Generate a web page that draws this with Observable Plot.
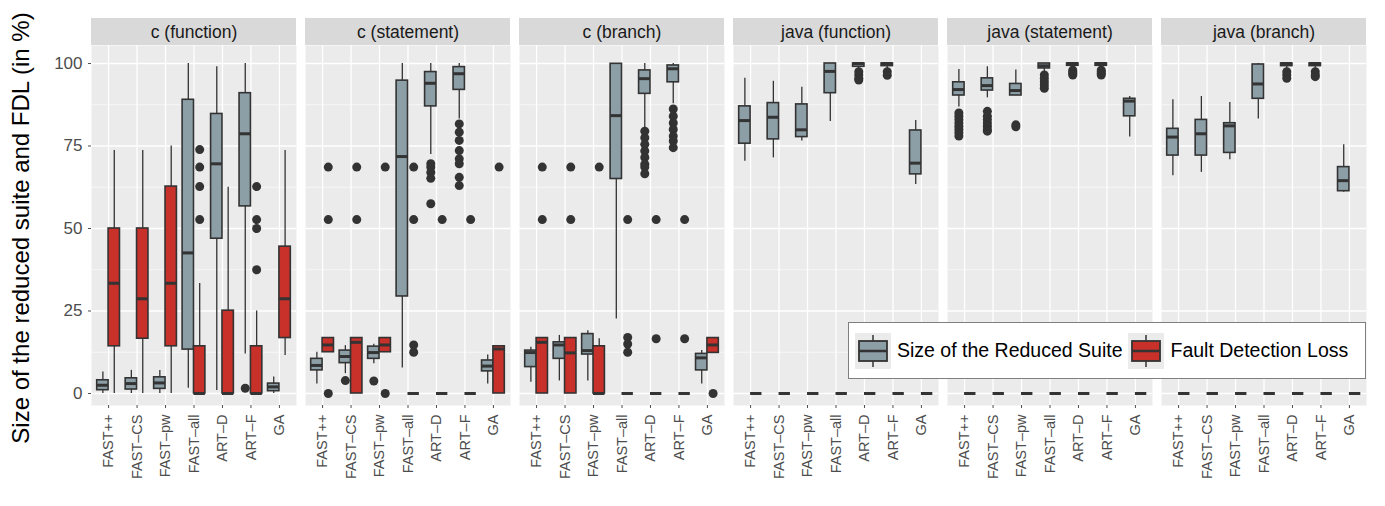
<!DOCTYPE html>
<html>
<head>
<meta charset="utf-8">
<script src="https://cdn.jsdelivr.net/npm/d3@7"></script>
<script src="https://cdn.jsdelivr.net/npm/@observablehq/plot@0.6"></script>
<style>
  body { margin: 0; background: #fff; font-family: "Liberation Sans", Arial, sans-serif; }
  #wrap { position: relative; width: 1385px; height: 506px; }
  #ylab { position: absolute; left: 21px; top: 228px; transform: translate(-50%, -50%) rotate(-90deg);
          font-size: 24px; white-space: nowrap; color: #000; }
  #legend { position: absolute; left: 848px; top: 322px; width: 516px; height: 55px; background: #fff;
            border: 1.5px solid #7f7f7f; display: flex; align-items: center; font-size: 19.5px; }
  #legend .item { display: flex; align-items: center; margin-left: 6px; }
  #legend svg { margin-right: 6px; }
</style>
</head>
<body>
<div id="wrap">
  <div id="chart"></div>
  <div id="ylab">Size of the reduced suite and FDL (in %)</div>
  <div id="legend">
    <div class="item"><svg width="36" height="36"><rect width="36" height="36" fill="#ebebeb"/><line x1="18" y1="2" x2="18" y2="34" stroke="#333" stroke-width="1.5"/><rect x="4" y="8" width="28" height="20" fill="#8c9ea6" stroke="#333" stroke-width="1.8"/><line x1="4" y1="18" x2="32" y2="18" stroke="#333" stroke-width="2.5"/></svg>Size of the Reduced Suite</div>
    <div class="item"><svg width="36" height="36"><rect width="36" height="36" fill="#ebebeb"/><line x1="18" y1="2" x2="18" y2="34" stroke="#333" stroke-width="1.5"/><rect x="4" y="8" width="28" height="20" fill="#c8302a" stroke="#333" stroke-width="1.8"/><line x1="4" y1="18" x2="32" y2="18" stroke="#333" stroke-width="2.5"/></svg>Fault Detection Loss</div>
  </div>
</div>
<script>
const facets = ["c (function)", "c (statement)", "c (branch)", "java (function)", "java (statement)", "java (branch)"];
const techniques = ["FAST++", "FAST-CS", "FAST-pw", "FAST-all", "ART-D", "ART-F", "GA"];
const seriesNames = ["Size of the Reduced Suite", "Fault Detection Loss"];

// [lo, q1, median, q3, hi] per technique, one list per facet
const sizeStats = [
  [[0,1,2.5,4,6.5],[0,1.2,3,4.6,7],[0,1.4,3.2,4.9,7],[1.6,13.3,42.6,89,100],[0.9,46.9,69.6,84.7,99],[12,56.7,78.7,91,100],[0,0.7,2,3,5]],
  [[2.9,7,8.5,10.5,12.5],[6,9.2,11.2,13,14.5],[9,10.5,12.4,14.2,14.9],[7.7,29.4,71.8,94.8,100],[72.4,87,94,97.4,100],[83.2,92,96.9,98.9,100],[2.9,6.7,8.3,10,11.7]],
  [[3.4,8,12.4,13,14],[3.8,10.5,14.7,15.5,17.6],[3.8,11.8,13,18,19],[22.6,65,84.2,99.9,100],[80.2,90.8,95.4,97.9,100],[87.8,94.3,98.4,99.4,100],[2.9,7,10.8,12,13]],
  [[70.4,75.7,82.7,87,95.5],[71.4,77,83.7,88,94.6],[76.5,77.7,79.9,87.6,92.8],[82.4,91,97.6,100,100],[98,99,100,100,100],[98.5,99.2,100,100,100],[63.3,66.4,69.8,79.7,82.7]],
  [[86.8,90.3,92.1,94.3,98.2],[89.6,91.8,93.3,95.5,99],[90.3,90.3,91.8,93.8,98],[97.5,98.5,99.3,100,100],[98.5,99.3,100,100,100],[98.5,99.3,100,100,100],[77.7,84,88.6,89.3,90]],
  [[66,72.1,77.7,80.2,89],[67,72.1,78.7,82.9,90],[70.8,72.9,81.1,81.9,88.2],[83.2,89.3,93.8,99.7,100],[98.5,99.2,100,100,100],[98.5,99.2,100,100,100],[61,61.3,64.5,68.6,75.4]]
];
const fdlStats = [
  [[0,14.3,33.4,50,73.6],[0,16.6,28.7,50,73.6],[0,14.3,33.4,62.7,75],[0,0,0,14.3,33.3],[0,0,0,25.1,62.5],[0,0,0,14.3,25],[11.5,16.8,28.7,44.5,73.6]],
  [[12.5,12.5,14.7,16.8,16.8],[0,0,15.5,16.8,16.8],[12.5,12.5,14.7,16.8,16.8],[0,0,0,0,0],[0,0,0,0,0],[0,0,0,0,0],[0,0,13.5,14.3,14.3]],
  [[0,0,15.5,16.8,16.8],[0,0,12.3,16.8,16.8],[0,0,0,14.3,16.6],[0,0,0,0,0],[0,0,0,0,0],[0,0,0,0,0],[12.3,12.3,14.7,16.8,16.8]],
  [[0,0,0,0,0],[0,0,0,0,0],[0,0,0,0,0],[0,0,0,0,0],[0,0,0,0,0],[0,0,0,0,0],[0,0,0,0,0]],
  [[0,0,0,0,0],[0,0,0,0,0],[0,0,0,0,0],[0,0,0,0,0],[0,0,0,0,0],[0,0,0,0,0],[0,0,0,0,0]],
  [[0,0,0,0,0],[0,0,0,0,0],[0,0,0,0,0],[0,0,0,0,0],[0,0,0,0,0],[0,0,0,0,0],[0,0,0,0,0]]
];
// outliers: [facet, technique, series (0 size, 1 FDL), value]
const outliers = [
  [0,3,1,73.9],[0,3,1,68.6],[0,3,1,62.7],[0,3,1,52.7],
  [0,5,0,1.6],[0,5,1,62.7],[0,5,1,52.7],[0,5,1,50],[0,5,1,37.5],
  [1,0,1,68.6],[1,0,1,52.7],[1,0,1,0],[1,1,0,3.9],[1,1,1,68.6],[1,1,1,52.7],
  [1,2,0,3.8],[1,2,1,68.6],[1,2,1,0],
  [1,3,1,68.6],[1,3,1,52.7],[1,3,1,14.7],[1,3,1,12.5],
  [1,4,0,69.6],[1,4,0,68.6],[1,4,0,67],[1,4,0,65.2],[1,4,0,57.5],[1,4,1,52.7],
  [1,5,0,81.7],[1,5,0,79.2],[1,5,0,76.7],[1,5,0,73.6],[1,5,0,71.1],[1,5,0,69.6],[1,5,0,65.5],[1,5,0,63],[1,5,1,52.7],
  [1,6,1,68.6],
  [2,0,1,68.6],[2,0,1,52.7],[2,1,1,68.6],[2,1,1,52.7],[2,2,1,68.6],
  [2,3,1,52.7],[2,3,1,17],[2,3,1,15],[2,3,1,12.5],
  [2,4,0,79.5],[2,4,0,77.5],[2,4,0,75.5],[2,4,0,73.5],[2,4,0,71.5],[2,4,0,69.5],[2,4,0,68.6],[2,4,0,66.6],[2,4,1,52.7],[2,4,1,16.6],
  [2,5,0,86.2],[2,5,0,84],[2,5,0,82],[2,5,0,80],[2,5,0,78],[2,5,0,76.5],[2,5,0,74.5],[2,5,1,52.7],[2,5,1,16.6],
  [2,6,1,0],
  [3,4,0,97.5],[3,4,0,96.5],[3,4,0,95.5],[3,4,0,95],[3,5,0,97.5],[3,5,0,96.4],
  [4,0,0,85],[4,0,0,84],[4,0,0,83],[4,0,0,82],[4,0,0,81],[4,0,0,80],[4,0,0,79],[4,0,0,78],
  [4,1,0,85.5],[4,1,0,84],[4,1,0,83],[4,1,0,82],[4,1,0,81],[4,1,0,80],[4,1,0,79.5],
  [4,2,0,81.4],[4,2,0,80.8],
  [4,3,0,96.5],[4,3,0,95.5],[4,3,0,94.5],[4,3,0,93.5],[4,3,0,92.5],
  [4,4,0,98],[4,4,0,97.5],[4,4,0,97],[4,4,0,96.5],[4,5,0,98],[4,5,0,97.5],[4,5,0,97],[4,5,0,96.5],
  [5,4,0,97.5],[5,4,0,96.5],[5,4,0,95.5],[5,5,0,97.5],[5,5,0,96.5],[5,5,0,96]
];

const colors = ["#8c9ea6", "#c8302a"];
const half = 0.2;
const boxes = [];
[sizeStats, fdlStats].forEach((stats, s) => {
  stats.forEach((list, f) => list.forEach(([lo, q1, med, q3, hi], t) => {
    boxes.push({facet: facets[f], x: t + (s ? half : -half), s, lo, q1, med, q3, hi});
  }));
});
const outs = outliers.map(([f, t, s, v]) => ({facet: facets[f], x: t + (s ? half : -half), v}));

const yTop = 105.45, stripH = 8.2;
const chart = Plot.plot({
  width: 1385, height: 506,
  marginLeft: 90, marginRight: 18, marginTop: 45, marginBottom: 101,
  style: {fontFamily: "Liberation Sans, Arial, sans-serif", background: "transparent"},
  fx: {domain: facets, paddingInner: 0.041, paddingOuter: 0, axis: null},
  x: {domain: [-0.6, 6.6]},
  y: {domain: [-3.64, yTop]},
  marks: [
    Plot.frame({fill: "#ebebeb", stroke: null}),
    Plot.rect(facets, {fx: d => d, y1: yTop, y2: yTop + stripH, fill: "#d9d9d9"}),
    Plot.text(facets, {fx: d => d, text: d => d, y: yTop + stripH / 2, fontSize: 17.5, fill: "#1a1a1a"}),
    Plot.gridY([12.5, 37.5, 62.5, 87.5], {stroke: "#fff", strokeOpacity: 1, strokeWidth: 0.6}),
    Plot.gridY([0, 25, 50, 75, 100], {stroke: "#fff", strokeOpacity: 1, strokeWidth: 1.3}),
    Plot.gridX(d3.range(7), {stroke: "#fff", strokeOpacity: 1, strokeWidth: 1.3}),
    Plot.ruleX(boxes, {fx: "facet", x: "x", y1: "lo", y2: "hi", stroke: "#333", strokeWidth: 1.3}),
    Plot.rect(boxes, {fx: "facet", x1: d => d.x - half, x2: d => d.x + half, y1: "q1", y2: "q3",
      fill: d => colors[d.s], stroke: "#333", strokeWidth: 1.6}),
    Plot.ruleY(boxes, {fx: "facet", y: "med", x1: d => d.x - half, x2: d => d.x + half, stroke: "#333", strokeWidth: 3}),
    Plot.dot(outs, {fx: "facet", x: "x", y: "v", r: 4.5, fill: "#333", stroke: null}),
    Plot.axisY({ticks: [0, 25, 50, 75, 100], tickSize: 3, fontSize: 17, color: "#4d4d4d", label: null}),
    Plot.axisX({ticks: d3.range(7), tickFormat: i => techniques[i].replace("-", "\u2013"), tickRotate: -90,
      tickSize: 3, fontSize: 14.5, color: "#4d4d4d", label: null})
  ]
});
document.getElementById("chart").append(chart);
</script>
</body>
</html>
